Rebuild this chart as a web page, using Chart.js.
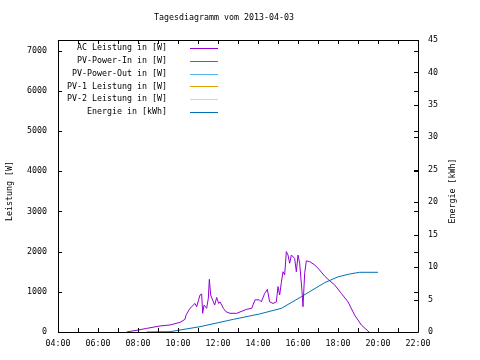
<!DOCTYPE html>
<html>
<head>
<meta charset="utf-8">
<script src="https://cdn.jsdelivr.net/npm/chart.js@4/dist/chart.umd.min.js"></script>
<style>
  html, body { margin: 0; padding: 0; background: #fff; }
  #wrap { width: 480px; height: 360px; }
</style>
</head>
<body>
<div id="wrap"><canvas id="chart" width="480" height="360"></canvas></div>
<script>
// Data ---------------------------------------------------------------------
const titleText = 'Tagesdiagramm vom 2013-04-03';

const acTimes = ['07:26', '08:01', '08:26', '09:06', '09:36', '10:06', '10:21', '10:24', '10:36', '10:51',
    '10:56', '11:06', '11:11', '11:14', '11:18', '11:26', '11:31', '11:34', '11:38', '11:50',
    '11:56', '12:02', '12:06', '12:16', '12:24', '12:36', '12:56', '13:26', '13:41', '13:51',
    '14:04', '14:10', '14:20', '14:28', '14:35', '14:45', '14:55', '15:00', '15:05', '15:10',
    '15:15', '15:20', '15:25', '15:30', '15:35', '15:40', '15:50', '15:55', '16:00', '16:05',
    '16:12', '16:15', '16:20', '16:25', '16:35', '16:50', '17:05', '17:20', '17:30', '17:50',
    '18:10', '18:30', '18:50', '19:10', '19:33'];
const acPower = [0, 50, 90, 150, 175, 240, 315, 420, 590, 710,
    630, 920, 945, 465, 670, 590, 840, 1310, 920, 670,
    860, 710, 750, 590, 505, 465, 465, 565, 590, 800,
    800, 750, 960, 1060, 750, 710, 750, 1130, 920, 1230,
    1500, 1420, 2000, 1915, 1710, 1915, 1830, 1500, 1915, 1710,
    1010, 630, 1460, 1770, 1750, 1670, 1540, 1390, 1310, 1170,
    960, 750, 420, 175, 0];

const energyTimes = ['08:26', '09:36', '11:06', '12:46', '14:04', '15:10', '16:10', '17:20', '18:00', '18:35', '19:05', '20:00'];
const energyKwh = [0, 0.05, 0.82, 1.95, 2.77, 3.65, 5.44, 7.6, 8.5, 8.94, 9.2, 9.2];

const seriesLabels = ['AC Leistung in [W]', 'PV-Power-In in [W]', 'PV-Power-Out in [W]',
    'PV-1 Leistung in [W]', 'PV-2 Leistung in [W]', 'Energie in [kWh]'];
const seriesColors = ['#9400d3', '#009e73', '#56b4e9', '#e69f00', '#f0e442', '#0072b2'];

const powerTicks = [0, 1000, 2000, 3000, 4000, 5000, 6000, 7000];
const energyTicks = [0, 5, 10, 15, 20, 25, 30, 35, 40, 45];
const hourTicks = [4, 5, 6, 7, 8, 9, 10, 11, 12, 13, 14, 15, 16, 17, 18, 19, 20, 21, 22];

const powerMax = 7264;

// helpers ------------------------------------------------------------------
function toHours(t) {
    const p = t.split(':');
    return Number(p[0]) + Number(p[1]) / 60;
}
function pad2(n) { return (n < 10 ? '0' : '') + n; }
function points(times, values) {
    return times.map((t, i) => ({ x: toHours(t), y: values[i] }));
}
function fixTicks(list) {
    return s => { s.ticks = list.map(v => ({ value: v })); };
}

const FONT = '8.3px "DejaVu Sans Mono"';

// gnuplot look: box, inward ticks, legend, titles --------------------------
const gnuplotLook = {
    id: 'gnuplotLook',
    afterDraw(chart) {
        const ctx = chart.ctx;
        const a = chart.chartArea;
        const sx = chart.scales.x, sy = chart.scales.y, sy2 = chart.scales.y2;
        const len = 4;
        ctx.save();
        ctx.strokeStyle = '#000';
        ctx.lineWidth = 1;
        ctx.beginPath();
        ctx.rect(Math.round(a.left) + 0.5, Math.round(a.top) + 0.5,
            Math.round(a.right - a.left), Math.round(a.bottom - a.top));
        ctx.stroke();

        ctx.beginPath();
        hourTicks.forEach(v => {
            const px = Math.round(sx.getPixelForValue(v)) + 0.5;
            ctx.moveTo(px, a.bottom); ctx.lineTo(px, a.bottom - len);
            ctx.moveTo(px, a.top); ctx.lineTo(px, a.top + len);
        });
        powerTicks.forEach(v => {
            const py = Math.round(sy.getPixelForValue(v)) + 0.5;
            ctx.moveTo(a.left, py); ctx.lineTo(a.left + len, py);
            ctx.moveTo(a.right, py); ctx.lineTo(a.right - len, py);
        });
        energyTicks.forEach(v => {
            const py = Math.round(sy2.getPixelForValue(v)) + 0.5;
            ctx.moveTo(a.right, py); ctx.lineTo(a.right - len, py);
        });
        ctx.stroke();

        ctx.fillStyle = '#000';
        ctx.font = FONT;
        ctx.textBaseline = 'middle';

        // title
        ctx.textAlign = 'center';
        ctx.fillText(titleText, 224, 18);

        // legend
        chart.data.datasets.forEach((ds, i) => {
            const y = 48 + i * 12.8;
            ctx.textAlign = 'right';
            ctx.fillStyle = '#000';
            ctx.fillText(ds.label, 167, y);
            ctx.strokeStyle = ds.borderColor;
            ctx.beginPath();
            ctx.moveTo(190, Math.round(y) + 0.5);
            ctx.lineTo(218, Math.round(y) + 0.5);
            ctx.stroke();
        });

        // axis titles, both read bottom to top
        ctx.fillStyle = '#000';
        ctx.textAlign = 'center';
        ctx.save();
        ctx.translate(10, 191);
        ctx.rotate(-Math.PI / 2);
        ctx.fillText('Leistung [W]', 0, 0);
        ctx.restore();
        ctx.save();
        ctx.translate(453, 191);
        ctx.rotate(-Math.PI / 2);
        ctx.fillText('Energie [kWh]', 0, 0);
        ctx.restore();

        ctx.restore();
    }
};

const tickFont = { family: 'DejaVu Sans Mono', size: 8.3 };

new Chart(document.getElementById('chart'), {
    type: 'line',
    data: {
        datasets: [
            { label: seriesLabels[0], data: points(acTimes, acPower), borderColor: seriesColors[0], yAxisID: 'y' },
            { label: seriesLabels[1], data: [], borderColor: seriesColors[1], yAxisID: 'y' },
            { label: seriesLabels[2], data: [], borderColor: seriesColors[2], yAxisID: 'y' },
            { label: seriesLabels[3], data: [], borderColor: seriesColors[3], yAxisID: 'y' },
            { label: seriesLabels[4], data: [], borderColor: seriesColors[4], yAxisID: 'y' },
            { label: seriesLabels[5], data: points(energyTimes, energyKwh), borderColor: seriesColors[5], yAxisID: 'y2' }
        ]
    },
    options: {
        responsive: false,
        animation: false,
        layout: { padding: { top: 40, left: 0, right: 0, bottom: 0 } },
        elements: {
            line: { borderWidth: 1, tension: 0 },
            point: { radius: 0 }
        },
        plugins: {
            legend: { display: false },
            title: { display: false },
            tooltip: { enabled: false }
        },
        scales: {
            x: {
                type: 'linear',
                min: hourTicks[0],
                max: hourTicks[hourTicks.length - 1],
                grid: { display: false, drawTicks: false },
                border: { display: false },
                afterBuildTicks: fixTicks(hourTicks),
                ticks: {
                    autoSkip: false,
                    maxRotation: 0,
                    padding: 7,
                    color: '#000',
                    font: tickFont,
                    callback: v => (v % 2 === 0 ? pad2(v) + ':00' : '')
                },
                afterFit: s => { s.height = 28; }
            },
            y: {
                position: 'left',
                min: 0,
                max: powerMax,
                grid: { display: false, drawTicks: false },
                border: { display: false },
                afterBuildTicks: fixTicks(powerTicks),
                ticks: {
                    autoSkip: false,
                    padding: 11,
                    color: '#000',
                    font: tickFont,
                    callback: v => String(v)
                },
                afterFit: s => { s.width = 58; }
            },
            y2: {
                position: 'right',
                min: 0,
                max: energyTicks[energyTicks.length - 1],
                grid: { display: false, drawTicks: false },
                border: { display: false },
                afterBuildTicks: fixTicks(energyTicks),
                ticks: {
                    autoSkip: false,
                    padding: 10,
                    color: '#000',
                    font: tickFont,
                    callback: v => String(v)
                },
                afterFit: s => { s.width = 62; }
            }
        }
    },
    plugins: [gnuplotLook]
});
</script>
</body>
</html>
